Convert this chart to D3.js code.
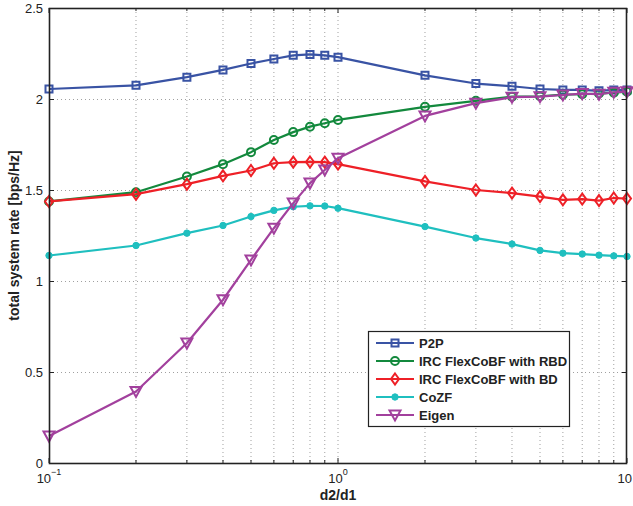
<!DOCTYPE html>
<html>
<head>
<meta charset="utf-8">
<script src="https://cdn.jsdelivr.net/npm/d3@7"></script>
<style>
  body { margin: 0; background: #fff; }
  svg { display: block; font-family: "Liberation Sans", Arial, sans-serif; }
</style>
</head>
<body>
<div id="chart"></div>
<script>
// x values (d2/d1)
const ratios = [0.1, 0.2, 0.3, 0.4, 0.5, 0.6, 0.7, 0.8, 0.9, 1, 2, 3, 4, 5, 6, 7, 8, 9, 10];

// series values
const p2p   = [2.055, 2.075, 2.12, 2.16, 2.195, 2.22, 2.24, 2.245, 2.24, 2.23, 2.13, 2.085, 2.07, 2.055, 2.05, 2.05, 2.045, 2.05, 2.05];
const rbd   = [1.437, 1.488, 1.574, 1.642, 1.708, 1.775, 1.818, 1.848, 1.867, 1.885, 1.957, 1.99, 2.013, 2.015, 2.024, 2.026, 2.03, 2.035, 2.04];
const bd    = [1.437, 1.477, 1.532, 1.578, 1.607, 1.647, 1.653, 1.654, 1.653, 1.642, 1.547, 1.50, 1.483, 1.464, 1.446, 1.45, 1.442, 1.456, 1.453];
const cozf  = [1.14, 1.195, 1.263, 1.305, 1.354, 1.388, 1.408, 1.413, 1.412, 1.40, 1.299, 1.236, 1.203, 1.168, 1.153, 1.148, 1.142, 1.138, 1.135];
const eigen = [0.148, 0.393, 0.659, 0.897, 1.116, 1.29, 1.428, 1.538, 1.61, 1.675, 1.907, 1.977, 2.01, 2.013, 2.022, 2.03, 2.026, 2.037, 2.04];

const seriesNames = ["P2P", "IRC FlexCoBF with RBD", "IRC FlexCoBF with BD", "CoZF", "Eigen"];
const yTicks = [0, 0.5, 1, 1.5, 2, 2.5];
const yTickLabels = ["0", "0.5", "1", "1.5", "2", "2.5"];
const xTicks = [0.1, 1, 10];
// the last exponent is clipped by the figure edge in the original
const xTickExps = ["\u22121", "0", ""];

const series = [
  { name: seriesNames[0], values: p2p,   color: "#3953a4", marker: "square" },
  { name: seriesNames[1], values: rbd,   color: "#13893d", marker: "circle" },
  { name: seriesNames[2], values: bd,    color: "#ee2027", marker: "diamond" },
  { name: seriesNames[3], values: cozf,  color: "#1fbfbf", marker: "dot" },
  { name: seriesNames[4], values: eigen, color: "#a2409d", marker: "triangle" }
];

const width = 633, height = 506;
const margin = { top: 8, right: 6, bottom: 43, left: 49 };
const iw = width - margin.left - margin.right;
const ih = height - margin.top - margin.bottom;

const svg = d3.select("#chart").append("svg")
  .attr("width", width)
  .attr("height", height);

const x = d3.scaleLog().domain([0.1, 10]).range([0, iw]);
const y = d3.scaleLinear().domain([0, 2.5]).range([ih, 0]);

const g = svg.append("g").attr("transform", `translate(${margin.left},${margin.top})`);

// minor log ticks
const minorTicks = [];
[0.1, 1].forEach(dec => { for (let k = 2; k <= 9; k++) minorTicks.push(dec * k); });

// grid (dotted)
const grid = g.append("g").attr("class", "grid");
grid.selectAll(".vgrid")
  .data(minorTicks.concat([1]))
  .enter().append("line")
  .attr("x1", d => x(d)).attr("x2", d => x(d))
  .attr("y1", 0).attr("y2", ih)
  .attr("stroke", "#a0a0a0")
  .attr("stroke-width", 1)
  .attr("stroke-dasharray", "1,3");
grid.selectAll(".hgrid")
  .data(yTicks.slice(1, -1))
  .enter().append("line")
  .attr("x1", 0).attr("x2", iw)
  .attr("y1", d => Math.round(y(d)) + 0.5).attr("y2", d => Math.round(y(d)) + 0.5)
  .attr("stroke", "#a0a0a0")
  .attr("stroke-width", 1)
  .attr("stroke-dasharray", "1,3");

// tick marks (inside, both sides)
const ticks = g.append("g").attr("stroke", "#222").attr("stroke-width", 1);
yTicks.forEach(v => {
  const yy = Math.round(y(v)) + 0.5;
  ticks.append("line").attr("x1", 0).attr("x2", 5).attr("y1", yy).attr("y2", yy);
  ticks.append("line").attr("x1", iw - 5).attr("x2", iw).attr("y1", yy).attr("y2", yy);
});
xTicks.forEach(v => {
  ticks.append("line").attr("x1", x(v)).attr("x2", x(v)).attr("y1", ih).attr("y2", ih - 5);
  ticks.append("line").attr("x1", x(v)).attr("x2", x(v)).attr("y1", 0).attr("y2", 5);
});
minorTicks.forEach(v => {
  ticks.append("line").attr("x1", x(v)).attr("x2", x(v)).attr("y1", ih).attr("y2", ih - 3);
  ticks.append("line").attr("x1", x(v)).attr("x2", x(v)).attr("y1", 0).attr("y2", 3);
});

// markers
function markerPath(type) {
  switch (type) {
    case "square": return "M-3.5,-3.5H3.5V3.5H-3.5Z";
    case "circle": return "M4,0A4,4 0 1,1 -4,0A4,4 0 1,1 4,0Z";
    case "diamond": return "M0,-5.5L4,0L0,5.5L-4,0Z";
    case "dot": return "M3.2,0A3.2,3.2 0 1,1 -3.2,0A3.2,3.2 0 1,1 3.2,0Z";
    case "triangle": return "M-5.5,-4.5L5.5,-4.5L0,5.5Z";
  }
}

const line = d3.line()
  .x((d, i) => x(ratios[i]))
  .y(d => y(d));

series.forEach(s => {
  const sg = g.append("g");
  sg.append("path")
    .datum(s.values)
    .attr("d", line)
    .attr("fill", "none")
    .attr("stroke", s.color)
    .attr("stroke-width", 2.2)
    .attr("stroke-linejoin", "round");
  sg.selectAll("path.mk")
    .data(s.values)
    .enter().append("path")
    .attr("class", "mk")
    .attr("transform", (d, i) => `translate(${x(ratios[i])},${y(d)})`)
    .attr("d", markerPath(s.marker))
    .attr("fill", s.marker === "dot" ? s.color : "none")
    .attr("stroke", s.color)
    .attr("stroke-width", s.marker === "dot" ? 1 : 2);
});

// axes box
g.append("rect")
  .attr("x", 0.5).attr("y", 0.5)
  .attr("width", iw - 1).attr("height", ih)
  .attr("fill", "none")
  .attr("stroke", "#222")
  .attr("stroke-width", 1.6);

// y tick labels
g.selectAll(".ylab")
  .data(yTicks)
  .enter().append("text")
  .attr("x", -6)
  .attr("y", d => y(d) + 5)
  .attr("text-anchor", "end")
  .style("font-size", "13px")
  .attr("fill", "#222")
  .text((d, i) => yTickLabels[i]);

// x tick labels: 10^n
xTicks.forEach((v, i) => {
  const last = i === xTicks.length - 1;
  const t = g.append("text")
    .attr("x", last ? iw + 5 : x(v))
    .attr("y", ih + 20)
    .attr("text-anchor", last ? "end" : "middle")
    .style("font-size", "13px")
    .attr("fill", "#222");
  t.append("tspan").text("10");
  if (xTickExps[i]) t.append("tspan").attr("dy", -8).style("font-size", "9px").text(xTickExps[i]);
});

// axis titles
svg.append("text")
  .attr("x", margin.left + iw / 2)
  .attr("y", 500)
  .attr("text-anchor", "middle")
  .style("font-size", "14px")
  .style("font-weight", "bold")
  .attr("fill", "#222")
  .text("d2/d1");

svg.append("text")
  .attr("transform", `translate(19,${margin.top + ih / 2}) rotate(-90)`)
  .attr("text-anchor", "middle")
  .style("font-size", "14px")
  .style("font-weight", "bold")
  .attr("fill", "#222")
  .text("total system rate [bps/Hz]");

// legend
const legend = svg.append("g").attr("transform", "translate(368,331)");
legend.append("rect")
  .attr("x", 0.5).attr("y", 0.5)
  .attr("width", 201).attr("height", 95)
  .attr("fill", "#fff")
  .attr("stroke", "#222")
  .attr("stroke-width", 1.2);

const items = legend.selectAll(".item")
  .data(series)
  .enter().append("g")
  .attr("transform", (d, i) => `translate(0,${12 + i * 18})`);
items.append("line")
  .attr("x1", 8).attr("x2", 46)
  .attr("stroke", d => d.color)
  .attr("stroke-width", 2.2);
items.append("path")
  .attr("transform", "translate(27,0)")
  .attr("d", d => markerPath(d.marker))
  .attr("fill", d => d.marker === "dot" ? d.color : "none")
  .attr("stroke", d => d.color)
  .attr("stroke-width", d => d.marker === "dot" ? 1 : 2);
items.append("text")
  .attr("x", 51)
  .attr("y", 4.5)
  .style("font-size", "13px")
  .style("font-weight", "bold")
  .attr("fill", "#222")
  .text(d => d.name);
</script>
</body>
</html>
